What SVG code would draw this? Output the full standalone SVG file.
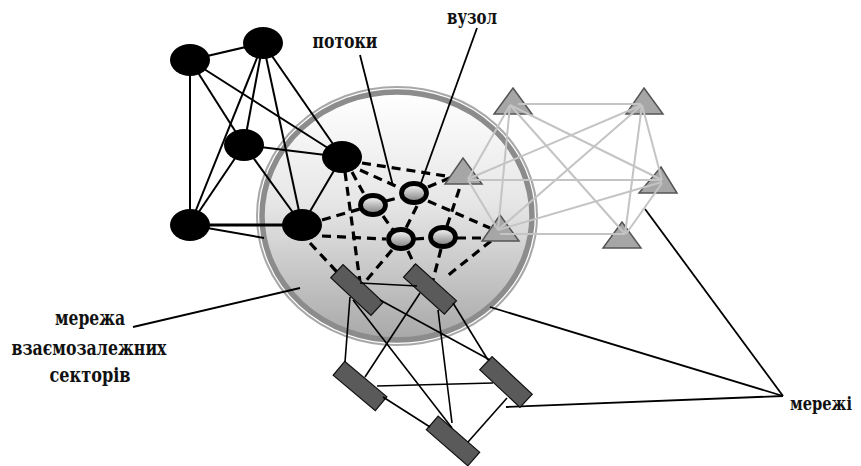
<svg xmlns="http://www.w3.org/2000/svg" width="861" height="466" viewBox="0 0 861 466">
<defs>
<linearGradient id="gBig" x1="0" y1="0" x2="0" y2="1">
<stop offset="0" stop-color="#ffffff"/>
<stop offset="0.45" stop-color="#e6e6e6"/>
<stop offset="1" stop-color="#a8a8a8"/>
</linearGradient>
<linearGradient id="gSmall" x1="0" y1="0" x2="0" y2="1">
<stop offset="0" stop-color="#ffffff"/>
<stop offset="1" stop-color="#7a7a7a"/>
</linearGradient>
</defs>
<style>
.lbl{font-family:'DejaVu Serif Condensed','DejaVu Serif',serif;font-weight:bold;font-size:20px;fill:#111;text-anchor:middle}
.blk{stroke:#000;stroke-width:2;fill:none}
.lead{stroke:#000;stroke-width:1.8;fill:none}
.dash{stroke:#000;stroke-width:3.2;stroke-dasharray:9 6;fill:none}
.gry{stroke:#c4c4c4;stroke-width:2;fill:none}
.rl{stroke:#000;stroke-width:1.6;fill:none}
.bn{fill:#000}
.sn{fill:url(#gSmall);stroke:#000;stroke-width:4.8}
.tri{fill:#a6a6a6;stroke:#555;stroke-width:1.5}
.rc{fill:#5a5a5a;stroke:#111;stroke-width:1.2}
</style>

<g id="sector-circle">
<ellipse cx="397" cy="216" rx="140" ry="129" fill="none" stroke="#a8a8a8" stroke-width="2"/>
<ellipse cx="397" cy="216" rx="135" ry="124" fill="url(#gBig)" stroke="#8c8c8c" stroke-width="5.5"/>
</g>

<g id="connectors">
<g class="blk">
<line x1="190" y1="60" x2="263" y2="43"/>
<line x1="190" y1="60" x2="190" y2="225"/>
<line x1="190" y1="60" x2="244" y2="145"/>
<line x1="190" y1="60" x2="342" y2="157"/>
<line x1="263" y1="43" x2="244" y2="145"/>
<line x1="263" y1="43" x2="342" y2="157"/>
<line x1="263" y1="43" x2="190" y2="225"/>
<line x1="263" y1="43" x2="302" y2="225"/>
<line x1="244" y1="145" x2="342" y2="157"/>
<line x1="244" y1="145" x2="190" y2="225"/>
<line x1="244" y1="145" x2="302" y2="225"/>
<line x1="342" y1="157" x2="302" y2="225"/>
<line x1="190" y1="225" x2="264" y2="238"/>
<line x1="190" y1="225" x2="302" y2="225" stroke-width="3.2"/>
</g>
<g class="dash">
<line x1="362" y1="163" x2="446" y2="176"/>
<line x1="360" y1="170" x2="400" y2="188"/>
<line x1="352" y1="172" x2="365" y2="196"/>
<line x1="345" y1="172" x2="360" y2="282"/>
<line x1="322" y1="220" x2="360" y2="209"/>
<line x1="322" y1="236" x2="386" y2="239"/>
<line x1="310" y1="243" x2="337" y2="272"/>
<line x1="386" y1="201" x2="401" y2="197"/>
<line x1="428" y1="187" x2="452" y2="177"/>
<line x1="428" y1="201" x2="490" y2="228"/>
<line x1="417" y1="206" x2="406" y2="228"/>
<line x1="383" y1="216" x2="393" y2="230"/>
<line x1="415" y1="239" x2="430" y2="238"/>
<line x1="457" y1="238" x2="492" y2="238"/>
<line x1="447" y1="226" x2="461" y2="184"/>
<line x1="392" y1="250" x2="365" y2="282"/>
<line x1="441" y1="249" x2="433" y2="280"/>
<line x1="491" y1="241" x2="446" y2="277"/>
<line x1="408" y1="251" x2="420" y2="277"/>
</g>
<g class="lead">
<line x1="360" y1="55" x2="393" y2="186"/>
<line x1="477" y1="28" x2="421" y2="183"/>
<line x1="133" y1="327" x2="300" y2="288"/>
<line x1="783" y1="396" x2="490" y2="307"/>
<line x1="783" y1="396" x2="645" y2="209"/>
<line x1="783" y1="396" x2="506" y2="407"/>
</g>
</g>

<g id="black-nodes">
<ellipse id="bA" class="bn" cx="190" cy="60" rx="20" ry="16"/>
<ellipse id="bB" class="bn" cx="263" cy="43" rx="20" ry="16"/>
<ellipse id="bC" class="bn" cx="244" cy="145" rx="20" ry="16"/>
<ellipse id="bD" class="bn" cx="342" cy="157" rx="20" ry="16"/>
<ellipse id="bE" class="bn" cx="190" cy="225" rx="20" ry="16"/>
<ellipse id="bF" class="bn" cx="302" cy="225" rx="20" ry="16"/>
</g>

<g id="small-nodes">
<ellipse id="n1" class="sn" cx="373" cy="205" rx="12.5" ry="9.5"/>
<ellipse id="n2" class="sn" cx="414" cy="193" rx="12.5" ry="9.5"/>
<ellipse id="n3" class="sn" cx="401" cy="239" rx="12.5" ry="9.5"/>
<ellipse id="n4" class="sn" cx="443" cy="237" rx="12.5" ry="9.5"/>
</g>

<g id="triangles">
<polygon id="t1" class="tri" points="513,88 532,114 494,114"/>
<polygon id="t2" class="tri" points="644,88 663,114 626,114"/>
<polygon id="t3" class="tri" points="463,158 482,184 445,184"/>
<polygon id="t4" class="tri" points="500,215 519,241 482,241"/>
<polygon id="t5" class="tri" points="661,167 677,193 639,193"/>
<polygon id="t6" class="tri" points="622,222 641,248 603,248"/>
</g>

<g id="triangle-links" class="gry">
<line x1="518" y1="104" x2="641" y2="104"/>
<line x1="510" y1="105" x2="468" y2="179"/>
<line x1="510" y1="105" x2="498" y2="230"/>
<line x1="510" y1="105" x2="662" y2="180"/>
<line x1="510" y1="105" x2="625" y2="234"/>
<line x1="642" y1="105" x2="468" y2="179"/>
<line x1="642" y1="105" x2="498" y2="230"/>
<line x1="642" y1="105" x2="662" y2="180"/>
<line x1="642" y1="105" x2="625" y2="234"/>
<line x1="468" y1="180" x2="662" y2="180"/>
<line x1="468" y1="180" x2="498" y2="230"/>
<line x1="498" y1="230" x2="662" y2="182"/>
<line x1="500" y1="234" x2="625" y2="234"/>
<line x1="662" y1="183" x2="626" y2="234"/>
</g>

<g id="rects">
<rect id="r1" class="rc" x="-27.5" y="-9" width="55" height="18" transform="translate(357 290) rotate(43)"/>
<rect id="r2" class="rc" x="-27.5" y="-9" width="55" height="18" transform="translate(430 289) rotate(42)"/>
<rect id="r3" class="rc" x="-27.5" y="-9" width="55" height="18" transform="translate(360 386) rotate(40)"/>
<rect id="r4" class="rc" x="-27.5" y="-9" width="55" height="18" transform="translate(506 382) rotate(43)"/>
<rect id="r5" class="rc" x="-27.5" y="-9" width="55" height="18" transform="translate(453 441) rotate(41)"/>
</g>

<g id="rect-links" class="rl">
<line x1="360" y1="283" x2="417" y2="286"/>
<line x1="350" y1="297" x2="345" y2="362"/>
<line x1="353" y1="300" x2="452" y2="428"/>
<line x1="380" y1="300" x2="490" y2="360"/>
<line x1="420" y1="293" x2="365" y2="377"/>
<line x1="438" y1="310" x2="452" y2="423"/>
<line x1="453" y1="303" x2="488" y2="360"/>
<line x1="377" y1="386" x2="493" y2="383"/>
<line x1="383" y1="397" x2="430" y2="427"/>
<line x1="507" y1="398" x2="468" y2="442"/>
</g>

<g id="labels">
<text class="lbl" x="345" y="48" textLength="65" lengthAdjust="spacingAndGlyphs">потоки</text>
<text class="lbl" x="472" y="24" textLength="50" lengthAdjust="spacingAndGlyphs">вузол</text>
<text class="lbl" x="90" y="325" textLength="70" lengthAdjust="spacingAndGlyphs">мережа</text>
<text class="lbl" x="89" y="355" textLength="155" lengthAdjust="spacingAndGlyphs">взаємозалежних</text>
<text class="lbl" x="90" y="382" textLength="81" lengthAdjust="spacingAndGlyphs">секторів</text>
<text class="lbl" x="821" y="410" style="font-size:18px" textLength="62" lengthAdjust="spacingAndGlyphs">мережі</text>
</g>
</svg>
